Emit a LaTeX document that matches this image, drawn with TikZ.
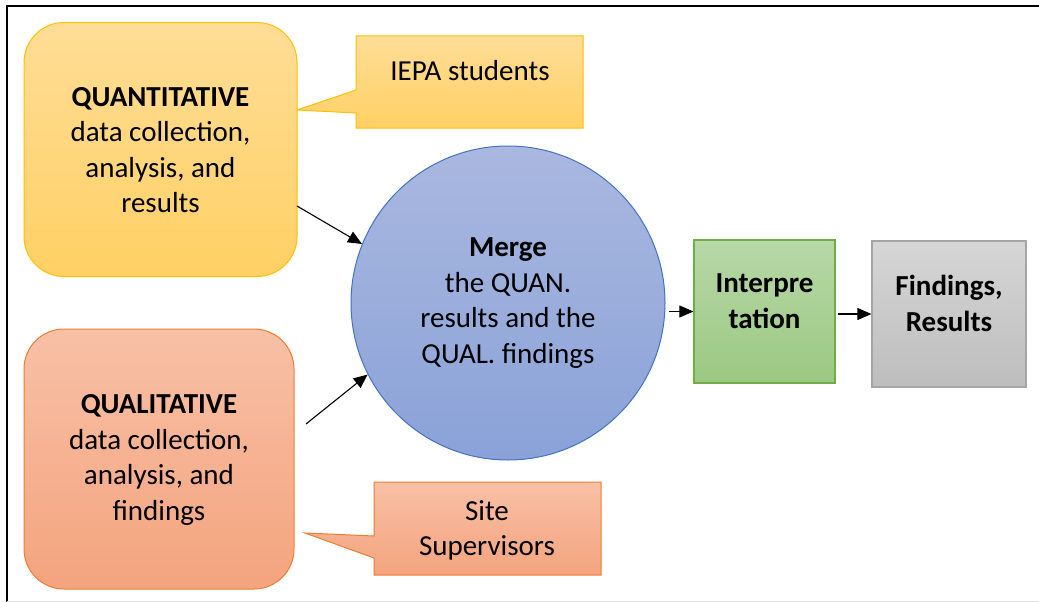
\documentclass[tikz,border=0pt]{standalone}
\usepackage{fontspec}
\setmainfont{Carlito}
\usetikzlibrary{arrows.meta}
\definecolor{quanT}{HTML}{FFDD97}
\definecolor{quanB}{HTML}{FFD064}
\definecolor{quanL}{HTML}{FFC000}
\definecolor{qualT}{HTML}{F8C0A6}
\definecolor{qualB}{HTML}{F4A47E}
\definecolor{qualL}{HTML}{ED7D31}
\definecolor{merT}{HTML}{AAB8E0}
\definecolor{merB}{HTML}{8AA2D8}
\definecolor{merL}{HTML}{4472C4}
\definecolor{intT}{HTML}{B7D8A7}
\definecolor{intB}{HTML}{9CC882}
\definecolor{intL}{HTML}{70AD47}
\definecolor{finT}{HTML}{D6D6D6}
\definecolor{finB}{HTML}{BDBDBD}
\definecolor{finL}{HTML}{A5A5A5}
\begin{document}
\begin{tikzpicture}[x=1pt,y=-1pt,
  txt/.style={align=center,font=\fontsize{29}{35.5}\selectfont,inner sep=0pt},
  roundbox/.style={rounded corners=40pt,line width=1pt,inner sep=0pt},
  sqbox/.style={line width=1.2pt,inner sep=0pt},
  arr/.style={line width=1.1pt,-{Triangle[length=14pt,width=12pt]}}]
\useasboundingbox (0,0) rectangle (1039,602);
% frame
\draw[line width=2.6pt] (7,603) -- (7,6) -- (1041,6);
\draw[black!12,line width=0.8pt] (7,601) -- (1039,601);

% callout IEPA
\path[draw=quanL,line width=1pt,top color=quanT,bottom color=quanB]
  (356,36) -- (583,36) -- (583,128) -- (356,128) -- (356,113) -- (297,110) -- (356,90) -- cycle;
\node[txt] (iepa) at (470,71) {IEPA students};

% callout Site
\path[draw=qualL,line width=1pt,top color=qualT,bottom color=qualB]
  (374,482) -- (601,482) -- (601,575) -- (374,575) -- (374,558) -- (305,533) -- (374,536) -- cycle;
\node[txt] (site) at (487,530.5) {Site\\Supervisors};

% main boxes
\node[roundbox,draw=quanL,top color=quanT,bottom color=quanB,minimum width=273pt,minimum height=254pt] (quant) at (160.5,149.5) {};
\node[txt] (quanttxt) at (160.5,150) {\textbf{QUANTITATIVE}\\data collection,\\analysis, and\\results};

\node[roundbox,draw=qualL,top color=qualT,bottom color=qualB,minimum width=270pt,minimum height=260pt] (qual) at (159,459) {};
\node[txt] (qualtxt) at (159,460) {\textbf{QUALITATIVE}\\data collection,\\analysis, and\\findings};

\node[circle,draw=merL,line width=1pt,top color=merT,bottom color=merB,minimum size=314pt,inner sep=0pt] (merge) at (508,303) {};
\node[txt] (mergetxt) at (508,303) {\textbf{Merge}\\the QUAN.\\results and the\\QUAL. findings};

\node[sqbox,draw=intL,top color=intT,bottom color=intB,minimum width=141pt,minimum height=143pt] (interp) at (764.5,311.5) {};
\node[txt] (interptxt) at (764.5,301) {\textbf{Interpre}\\\textbf{tation}};

\node[sqbox,draw=finL,top color=finT,bottom color=finB,minimum width=154pt,minimum height=146pt] (find) at (949,314) {};
\node[txt] (findtxt) at (949,303.5) {\textbf{Findings,}\\\textbf{Results}};

% connectors
\coordinate (a1) at (297,206);
\coordinate (a2) at (306,424);
\coordinate (a3) at (669,311.5);
\coordinate (a4) at (838,314);
\draw[arr] (a1) -- (merge.158);
\draw[arr] (a2) -- (merge.207);
\draw[arr] (a3) -- (interp.west);
\draw[arr] (a4) -- (find.west);
\end{tikzpicture}
\end{document}
